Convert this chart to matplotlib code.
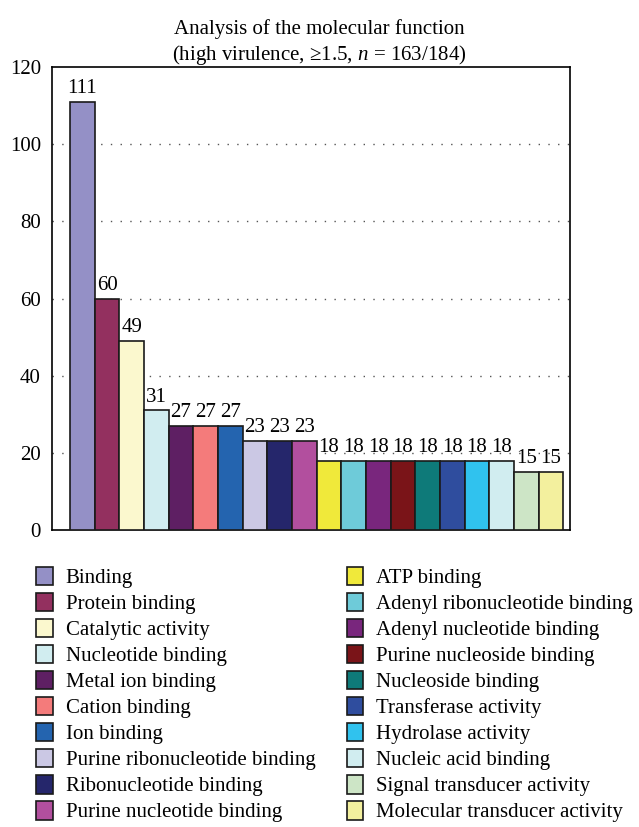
import numpy as np
import matplotlib
matplotlib.use('Agg')
import matplotlib.pyplot as plt
from matplotlib.patches import Patch

plt.rc('font', family='Liberation Serif', size=15)
plt.rcParams['mathtext.fontset'] = 'custom'
plt.rcParams['mathtext.it'] = 'Liberation Serif:italic'
plt.rcParams['mathtext.rm'] = 'Liberation Serif'

terms = ['Binding', 'Protein binding', 'Catalytic activity', 'Nucleotide binding',
         'Metal ion binding', 'Cation binding', 'Ion binding',
         'Purine ribonucleotide binding', 'Ribonucleotide binding',
         'Purine nucleotide binding', 'ATP binding', 'Adenyl ribonucleotide binding',
         'Adenyl nucleotide binding', 'Purine nucleoside binding', 'Nucleoside binding',
         'Transferase activity', 'Hydrolase activity', 'Nucleic acid binding',
         'Signal transducer activity', 'Molecular transducer activity']
counts = [111, 60, 49, 31, 27, 27, 27, 23, 23, 23, 18, 18, 18, 18, 18, 18, 18, 18, 15, 15]
colors = ['#9490C6', '#93305F', '#FBF8CE', '#D1EDF0', '#5E1F63', '#F47B7B', '#2464AF',
          '#CBC8E4', '#25266B', '#B24F9E', '#F0E93A', '#6ECBD9', '#79267D', '#7A1418',
          '#0E7A79', '#2F4D9E', '#30C2EE', '#D1EDF0', '#CDE5C6', '#F3F09E']

fig = plt.figure(figsize=(6.39, 8.27), dpi=100)
ax = fig.add_axes([0.0814, 0.359, 0.811, 0.56])

x = np.arange(len(counts))
ax.bar(x, counts, width=1.0, color=colors, edgecolor='#1a1a1a', linewidth=1.2, zorder=3)
for xi, c in zip(x, counts):
    ax.text(xi, c + 1.0, str(c), ha='center', va='bottom', fontsize=15, zorder=4)

ax.set_xlim(-1.23, 19.78)
ax.set_ylim(0, 120)
ax.set_yticks(np.arange(0, 121, 20))
ax.set_xticks([])
ax.tick_params(axis='y', length=0, pad=8, labelsize=15)
for yv in range(20, 101, 20):
    ax.axhline(yv, color='#555555', ls=(0, (1, 6)), lw=1.0, zorder=1)
for s in ax.spines.values():
    s.set_linewidth(1.2)

fig.text(0.5, 0.965, 'Analysis of the molecular function', ha='center', va='center', fontsize=15)
fig.text(0.5, 0.933, '(high virulence, \u22651.5, $n$ = 163/184)', ha='center', va='center',
         fontsize=15)

handles = [Patch(facecolor=c, edgecolor='#1a1a1a', linewidth=1.2) for c in colors]
fig.legend(handles, terms, ncol=2, loc='upper left', bbox_to_anchor=(0.044, 0.325),
           frameon=False, fontsize=15, handlelength=0.8, handleheight=1.0,
           handletextpad=0.6, labelspacing=0.22, columnspacing=1.5, borderaxespad=0)

fig.savefig('out.png', dpi=100)
